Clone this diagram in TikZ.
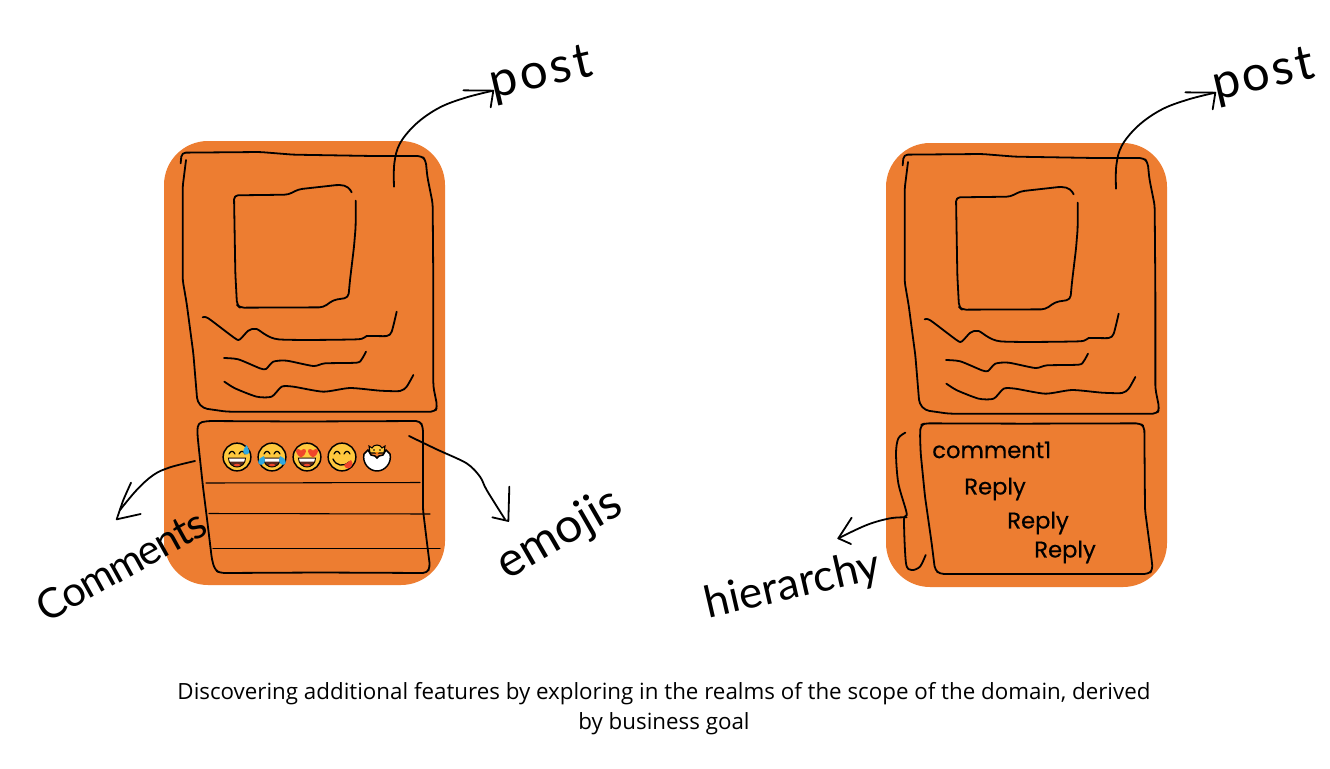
\documentclass[tikz,border=0pt]{standalone}
\usepackage{fontspec}
\setmainfont{Open Sans}
\newfontfamily\comicfont[RawFeature={embolden=0.5}]{Poppins}
\newfontfamily\handfont{Lato}
\definecolor{panelorange}{HTML}{ED7D31}
\definecolor{emojiyellow}{HTML}{FFC83D}
\definecolor{tearblue}{HTML}{2FA8E0}
\definecolor{heartred}{HTML}{F0452A}
\definecolor{mouthdark}{HTML}{5A2A1E}
\tikzset{
  panel/.style={fill=panelorange,rounded corners=33pt,minimum width=210.75pt,minimum height=333pt,inner sep=0pt,draw=none},
  ink/.style={draw=black,line width=1.35pt,line cap=round,line join=round},
  boxink/.style={ink,rounded corners=3pt},
  thinink/.style={draw=black,line width=.8pt,line cap=round},
  zoomscale/.style={x=.25pt,y=-.25pt},
  comic/.style={font=\comicfont\fontsize{17}{18}\selectfont,inner sep=0pt,text=black},
  hand/.style={font=\handfont\fontsize{#1}{#1}\selectfont,inner sep=0pt,text=black},
  face/.style={fill=emojiyellow,draw=black,line width=1.1pt}
}
\newcommand{\poststrokes}[1]{%
  \draw[boxink] (62,430) -- (65,398) -- (300,396) -- (400,404) -- (640,408) -- (785,408) -- (797,420) -- (802,470) -- (818,550) -- (820,800) -- (820,1100) -- (832,1160) -- (825,1175) -- (500,1175) -- (200,1175) -- (130,1165) -- (112,1145) -- (100,1000) -- (80,850) -- (68,780) -- (68,500) -- (78,420);
  \draw[boxink] (575,517) -- (565,500) -- (540,494) -- (415,508) -- (385,524) -- (222,526) -- (226,760) -- (231,855) -- (240,863) -- (490,862) -- (520,840) -- (565,833) -- (570,780) -- (582,680) -- (587,620) -- (587,542);
  \draw[ink] plot[smooth,tension=.4] coordinates {(128,892)(145,895)(225,955)(240,958)(265,932)(290,927)(355,958)(590,958)(620,948)(680,948)(695,935)(710,875)};
  \draw[ink] plot[smooth,tension=.4] coordinates {(192,1014)(235,1018)(300,1045)(318,1047)(340,1025)(380,1022)(460,1038)(495,1030)(590,1028)(605,1018)(618,995)};
  \draw[ink] plot[smooth,tension=.4] coordinates {(193,1085)(225,1105)(290,1130)(335,1130)(365,1100)(400,1100)(490,1115)(570,1104)(660,1112)(720,1113)(740,1100)(760,1065)};
  \coordinate (#1tail) at (702,500);
  \coordinate (#1tip) at (1000,212);
  \draw[ink] plot[smooth,tension=.6] coordinates {(#1tail)(703,430)(720,370)(770,310)(840,262)(920,232)(#1tip)};
  \draw[ink] (910,211) -- (#1tip) -- (992,262);
  \node[hand=37,rotate=13,anchor=center] (#1word) at (1145,165) {\addfontfeature{LetterSpace=6}post};
}
\newcommand{\emojiface}[2]{%
  \fill[face] (#1) circle[radius=10.4pt];
  \begin{scope}[shift={(#1)}]#2\end{scope}
}
\newcommand{\happyeyes}{%
  \draw[line width=.9pt,line cap=round] (-8,-3) .. controls (-6.5,-6.5) and (-3.5,-6.5) .. (-2,-3);
  \draw[line width=.9pt,line cap=round] (2,-3) .. controls (3.5,-6.5) and (6.5,-6.5) .. (8,-3);
}
\newcommand{\openmouth}{%
  \fill[mouthdark,draw=black,line width=.7pt] (-8.5,1) -- (8.5,1) .. controls (8.5,7) and (4,10) .. (0,10) .. controls (-4,10) and (-8.5,7) .. (-8.5,1) -- cycle;
  \fill[white] (-8,1.5) -- (8,1.5) -- (7.2,4.5) -- (-7.2,4.5) -- cycle;
  \fill[heartred] (-3.5,8.2) .. controls (-2,6.4) and (2,6.4) .. (3.5,8.2) .. controls (2,9.6) and (-2,9.6) .. (-3.5,8.2) -- cycle;
}
\newcommand{\heartat}[1]{%
  \fill[heartred,shift={(#1)}] (0,4) .. controls (-7,-.5) and (-5.5,-5) .. (-2.5,-4.5) .. controls (-1,-4.3) and (0,-3) .. (0,-2.4) .. controls (0,-3) and (1,-4.3) .. (2.5,-4.5) .. controls (5.5,-5) and (7,-.5) .. (0,4) -- cycle;
}
\begin{document}
\begin{tikzpicture}[x=.75pt,y=-.75pt]
\useasboundingbox (0,0) rectangle (1330,768);
\fill[white] (0,0) rectangle (1330,768);

\node[panel] (panelL) at (304.5,363) {};
\node[panel] (panelR) at (1026.5,365) {};

% --- post sketches (traced at 3x) ---
\begin{scope}[shift={(160,20)},zoomscale]
  \poststrokes{postL}
\end{scope}
\begin{scope}[shift={(882,22)},zoomscale]
  \poststrokes{postR}
\end{scope}

% --- left comment box ---
\draw[boxink] (197.3,433) -- (198,423) -- (207,421) -- (300,421.5) -- (420,421) -- (423,427) -- (423,510) -- (427,543) -- (430,567) -- (427,573) -- (320,572.5) -- (220,573) -- (215,570) -- (212,560) -- (208,527) -- (203,487) -- (199,450) -- cycle;
\draw[thinink] (206,483) -- (420,482.5);
\draw[thinink] (209,513.5) -- (430,514);
\draw[thinink] (213,548.5) -- (440,548.5);

% --- emojis ---
\emojiface{237,457}{\happyeyes\openmouth
  \fill[tearblue] (9.5,-12) .. controls (6,-7) and (5,-5) .. (7.5,-3) .. controls (10,-1.5) and (13,-3.5) .. (12,-6.5) .. controls (11.5,-8.5) and (10.5,-10.5) .. (9.5,-12) -- cycle;}
\emojiface{272,457}{\happyeyes\openmouth
  \fill[tearblue] (-8,-1) .. controls (-13,1) and (-15,5) .. (-13,7) .. controls (-10.5,9) and (-7,7) .. (-7,3) -- cycle;
  \fill[tearblue] (8,-1) .. controls (13,1) and (15,5) .. (13,7) .. controls (10.5,9) and (7,7) .. (7,3) -- cycle;}
\emojiface{307,457}{\openmouth\heartat{-6,-3.5}\heartat{6,-3.5}}
\emojiface{342,457}{\happyeyes
  \draw[line width=1pt,line cap=round] (-9,2) .. controls (-6,9) and (2,10) .. (7,5);
  \fill[heartred] (2,8) -- (9,3) .. controls (12,6) and (10,11) .. (6,11.5) .. controls (4,11.5) and (2.5,10) .. (2,8) -- cycle;}
\begin{scope}[shift={(377,457)}]
  \fill[emojiyellow,draw=black,line width=.8pt] (-7,-4) -- (-8,-11) -- (-5,-9) .. controls (-3,-13) and (3,-13) .. (5,-9) -- (8,-11) -- (7,-4) -- cycle;
  \fill[white,draw=black,line width=1.1pt] (-13,-3) -- (-9,-7) -- (-6,-2) -- (-2,-1) -- (0,1) -- (2,-1) -- (6,-2) -- (9,-7) -- (13,-3) .. controls (15,6) and (8,14) .. (0,14) .. controls (-8,14) and (-15,6) .. (-13,-3) -- cycle;
  \fill[black] (-3,-7) circle[radius=.7pt] (3,-7) circle[radius=.7pt];
  \fill[orange] (-2,-5) -- (2,-5) -- (0,-2.5) -- cycle;
\end{scope}

% --- comments annotation ---
\begin{scope}[shift={(20,410)},zoomscale]
  \coordinate (comA) at (525,153);
  \coordinate (comB) at (290,328);
  \draw[ink] plot[smooth,tension=.6] coordinates {(comA)(450,172)(400,195)(350,240)(300,300)};
  \draw[ink] plot[smooth,tension=.3] coordinates {(333,218)(310,270)(comB)};
  \draw[ink] (comB) -- (362,312);
\end{scope}
\node[hand=31,rotate=29] (wordComments) at (121,565) {\addfontfeature{LetterSpace=-3}Comments};

% --- emojis annotation ---
\begin{scope}[shift={(320,410)},zoomscale]
  \coordinate (emoA) at (267,78);
  \coordinate (emoB) at (555,328);
  \draw[ink] plot[smooth,tension=.5] coordinates {(emoA)(350,118)(440,160)(480,200)(500,240)(emoB)};
  \draw[ink] (517,322) -- (565,333) -- (568,230);
\end{scope}
\node[hand=36,rotate=30] (wordEmojis) at (560,535) {emojis};

% --- right comment box ---
\begin{scope}[shift={(690,410)},zoomscale]
  \draw[boxink] (690,75) -- (692,45) -- (705,40) -- (1000,41) -- (1350,40) -- (1363,50) -- (1365,300) -- (1385,450) -- (1388,480) -- (1375,492) -- (1000,492) -- (750,492) -- (735,480) -- (725,400) -- (705,260) -- (692,130) -- cycle;
  \draw[ink] plot[smooth,tension=.5] coordinates {(646,68)(625,85)(618,130)(625,220)(650,310)(642,330)(648,460)(665,480)(690,470)(707,435)};
  \coordinate (hierA) at (650,322);
  \coordinate (hierB) at (445,385);
  \draw[ink] plot[smooth,tension=.6] coordinates {(hierA)(600,325)(530,345)(hierB)};
  \draw[ink] (485,323) -- (hierB) -- (483,402);
\end{scope}
\node[hand=33,rotate=13] (wordHierarchy) at (793,586) {hierarchy};

\node[comic,anchor=west] (c1) at (932,450) {comment1};
\node[comic,anchor=west] (r1) at (964,489) {Reply};
\node[comic,anchor=west] (r2) at (1007,523) {Reply};
\node[comic,anchor=west] (r3) at (1034,552) {Reply};

% --- caption ---
\node[align=center,font=\fontsize{16.75}{22.5}\selectfont,inner sep=0pt] (caption) at (664,709) {Discovering additional features by exploring in the realms of the scope of the domain, derived\\by business goal};
\end{tikzpicture}
\end{document}
